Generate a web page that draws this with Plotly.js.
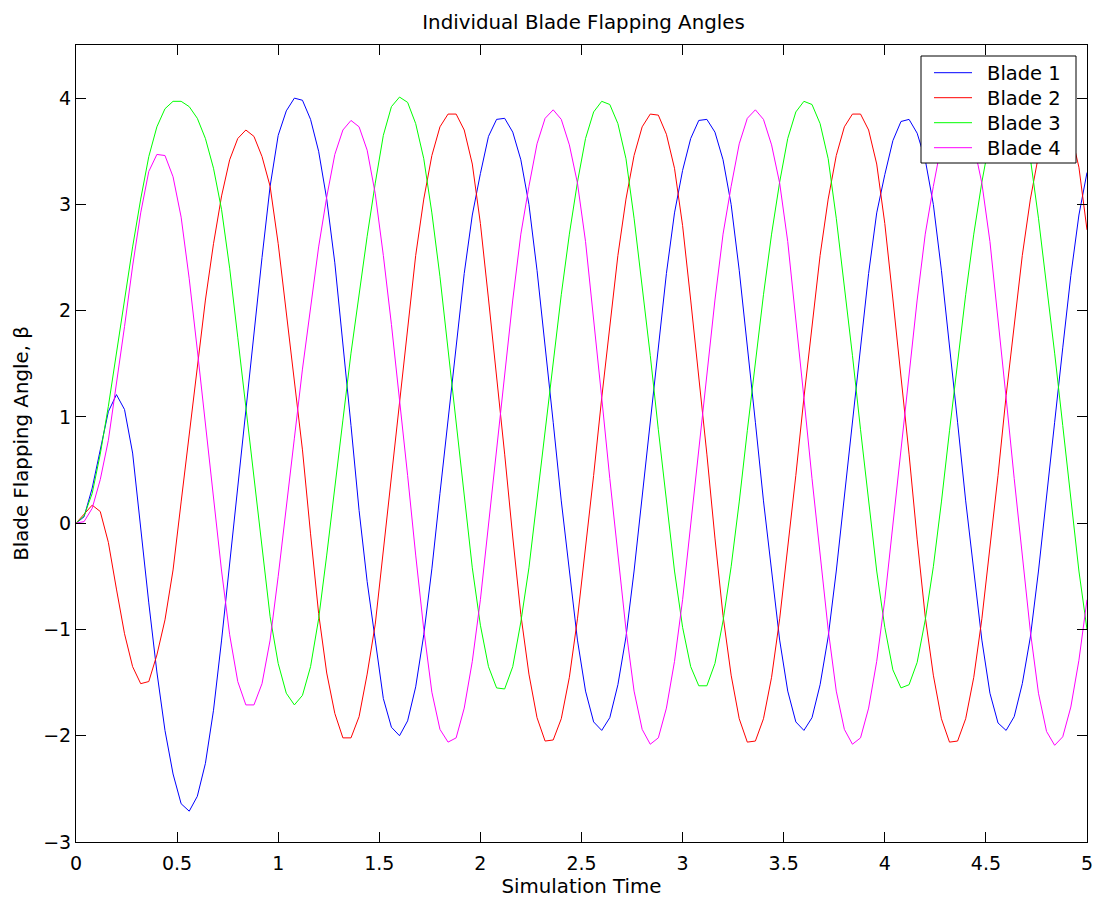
<!DOCTYPE html>
<html>
<head>
<meta charset="utf-8">
<script src="https://cdn.plot.ly/plotly-3.0.1.min.js"></script>
<style>
  html, body { margin: 0; padding: 0; background: #ffffff; }
  #chart { width: 1097px; height: 903px; }
</style>
</head>
<body>
<div id="chart"></div>
<script>
// Sampling of the simulation (s)
const sampleStart = 0;
const sampleStep = 0.04;

// Blade flapping angles (one value per sample, t = 0 ... 5 s)
const blade1 = [
  0, 0.06, 0.33, 0.69, 1.05, 1.21, 1.07, 0.66, -0.05, -0.75,
  -1.4, -1.95, -2.36, -2.64, -2.71, -2.57, -2.26, -1.76, -1.1, -0.37,
  0.33, 1.05, 1.8, 2.5, 3.17, 3.65, 3.88, 4.0, 3.98, 3.8,
  3.5, 3.05, 2.45, 1.7, 0.92, 0.12, -0.55, -1.1, -1.65, -1.92,
  -2.0, -1.86, -1.54, -1.05, -0.43, 0.28, 0.98, 1.68, 2.35, 2.9,
  3.29, 3.64, 3.8, 3.81, 3.68, 3.42, 3.0, 2.38, 1.69, 0.95,
  0.21, -0.45, -1.1, -1.58, -1.87, -1.95, -1.83, -1.52, -1.07, -0.45,
  0.25, 0.98, 1.68, 2.35, 2.92, 3.32, 3.62, 3.79, 3.8, 3.68,
  3.42, 3.0, 2.38, 1.69, 0.95, 0.21, -0.45, -1.1, -1.58, -1.87,
  -1.95, -1.83, -1.52, -1.07, -0.45, 0.25, 0.98, 1.68, 2.35, 2.92,
  3.28, 3.6, 3.78, 3.8, 3.67, 3.42, 3.0, 2.38, 1.69, 0.95,
  0.21, -0.45, -1.1, -1.6, -1.88, -1.95, -1.82, -1.51, -1.07, -0.45,
  0.22, 0.95, 1.65, 2.33, 2.9, 3.3
];
const blade2 = [
  0, 0.08, 0.17, 0.11, -0.18, -0.62, -1.04, -1.35, -1.51, -1.49,
  -1.24, -0.91, -0.44, 0.2, 0.82, 1.47, 2.1, 2.63, 3.08, 3.42,
  3.62, 3.7, 3.64, 3.45, 3.17, 2.63, 1.97, 1.35, 0.69, -0.1,
  -0.85, -1.41, -1.79, -2.02, -2.02, -1.82, -1.42, -0.95, -0.25, 0.45,
  1.18, 1.88, 2.52, 3.05, 3.46, 3.73, 3.85, 3.85, 3.7, 3.38,
  2.82, 2.11, 1.4, 0.65, -0.13, -0.86, -1.42, -1.83, -2.05, -2.04,
  -1.84, -1.45, -0.9, -0.25, 0.45, 1.18, 1.88, 2.52, 3.05, 3.46,
  3.73, 3.85, 3.84, 3.66, 3.34, 2.8, 2.1, 1.4, 0.65, -0.14,
  -0.87, -1.43, -1.84, -2.06, -2.05, -1.84, -1.45, -0.9, -0.25, 0.45,
  1.18, 1.88, 2.52, 3.05, 3.46, 3.73, 3.85, 3.85, 3.7, 3.38,
  2.82, 2.11, 1.4, 0.65, -0.15, -0.88, -1.43, -1.84, -2.06, -2.05,
  -1.84, -1.45, -0.9, -0.24, 0.45, 1.2, 1.88, 2.52, 3.05, 3.46,
  3.73, 3.85, 3.85, 3.68, 3.35, 2.76
];
const blade3 = [
  0, 0.07, 0.28, 0.65, 1.1, 1.6, 2.1, 2.6, 3.05, 3.45,
  3.73, 3.9, 3.97, 3.97, 3.92, 3.81, 3.62, 3.34, 2.95, 2.4,
  1.75, 1.1, 0.45, -0.2, -0.88, -1.32, -1.6, -1.71, -1.62, -1.35,
  -0.9, -0.3, 0.36, 0.97, 1.6, 2.16, 2.7, 3.2, 3.65, 3.92,
  4.01, 3.96, 3.76, 3.43, 2.92, 2.32, 1.65, 0.95, 0.25, -0.42,
  -0.96, -1.35, -1.55, -1.56, -1.35, -0.93, -0.42, 0.23, 0.87, 1.52,
  2.15, 2.72, 3.21, 3.62, 3.87, 3.97, 3.94, 3.76, 3.43, 2.87,
  2.25, 1.58, 0.88, 0.2, -0.45, -0.98, -1.35, -1.53, -1.53, -1.32,
  -0.92, -0.41, 0.2, 0.87, 1.52, 2.15, 2.72, 3.21, 3.62, 3.87,
  3.97, 3.94, 3.76, 3.43, 2.87, 2.25, 1.58, 0.88, 0.2, -0.45,
  -0.98, -1.38, -1.55, -1.52, -1.31, -0.91, -0.41, 0.2, 0.87, 1.52,
  2.15, 2.72, 3.21, 3.62, 3.87, 3.97, 3.94, 3.76, 3.43, 2.87,
  2.25, 1.6, 0.92, 0.22, -0.45, -1.0
];
const blade4 = [
  0, 0.015, 0.14, 0.41, 0.78, 1.3, 1.85, 2.42, 2.92, 3.31,
  3.47, 3.46, 3.26, 2.88, 2.3, 1.63, 0.95, 0.21, -0.45, -1.05,
  -1.49, -1.71, -1.71, -1.51, -1.1, -0.5, 0.18, 0.8, 1.45, 2.05,
  2.6, 3.07, 3.47, 3.7, 3.79, 3.73, 3.51, 3.1, 2.52, 1.87,
  1.18, 0.45, -0.3, -1.0, -1.59, -1.94, -2.06, -2.02, -1.74, -1.3,
  -0.72, -0.02, 0.7, 1.4, 2.1, 2.72, 3.17, 3.57, 3.81, 3.89,
  3.8, 3.56, 3.2, 2.65, 1.93, 1.18, 0.42, -0.32, -1.0, -1.58,
  -1.94, -2.08, -2.02, -1.74, -1.3, -0.72, -0.02, 0.7, 1.4, 2.1,
  2.72, 3.17, 3.57, 3.81, 3.89, 3.8, 3.56, 3.2, 2.65, 1.93,
  1.18, 0.42, -0.32, -1.0, -1.58, -1.94, -2.08, -2.02, -1.74, -1.3,
  -0.72, -0.02, 0.7, 1.4, 2.1, 2.72, 3.17, 3.57, 3.81, 3.89,
  3.8, 3.56, 3.2, 2.65, 1.93, 1.18, 0.42, -0.32, -1.02, -1.6,
  -1.96, -2.09, -2.01, -1.73, -1.29, -0.72
];

const seriesNames = ['Blade 1', 'Blade 2', 'Blade 3', 'Blade 4'];
const seriesColors = ['#0000ff', '#ff0000', '#00ff00', '#ff00ff'];
const xTickVals = [0, 0.5, 1, 1.5, 2, 2.5, 3, 3.5, 4, 4.5, 5];
const yTickVals = [-3, -2, -1, 0, 1, 2, 3, 4];

const time = blade1.map((_, i) => +(sampleStart + i * sampleStep).toFixed(2));
const allSeries = [blade1, blade2, blade3, blade4];

const font = 'DejaVu Sans, Liberation Sans, Arial, sans-serif';

// Figure geometry (pixels)
const W = 1097, H = 903;
const M = { l: 76, r: 10, t: 45, b: 61 };
const plotW = W - M.l - M.r, plotH = H - M.t - M.b;
const px = x => (x - M.l) / plotW;          // pixel x -> paper x
const py = y => (H - M.b - y) / plotH;      // pixel y -> paper y

const traces = allSeries.map((vals, i) => ({
  type: 'scatter',
  mode: 'lines',
  x: time,
  y: vals,
  name: seriesNames[i],
  line: { color: seriesColors[i], width: 1 },
  hoverinfo: 'x+y+name',
  showlegend: false
}));

// Legend drawn as a boxed key in the upper-right corner of the axes
const legBox = { x0: 921, x1: 1076, y0: 56, y1: 163 };
const legRowY = [72.7, 97.7, 122.7, 147.7];
const legLine = { x0: 934, x1: 972 };
const legTextX = 985;

const shapes = [{
  type: 'rect', xref: 'paper', yref: 'paper', layer: 'above',
  x0: px(legBox.x0), x1: px(legBox.x1), y0: py(legBox.y1), y1: py(legBox.y0),
  fillcolor: '#ffffff', line: { color: '#000000', width: 1 }
}];
const annotations = [];
seriesNames.forEach((name, i) => {
  shapes.push({
    type: 'line', xref: 'paper', yref: 'paper', layer: 'above',
    x0: px(legLine.x0), x1: px(legLine.x1), y0: py(legRowY[i]), y1: py(legRowY[i]),
    line: { color: seriesColors[i], width: 1 }
  });
  annotations.push({
    xref: 'paper', yref: 'paper', x: px(legTextX), y: py(legRowY[i] + 1),
    xanchor: 'left', yanchor: 'middle', showarrow: false,
    text: name, font: { family: font, size: 19.5, color: '#000000' }
  });
});

const axisCommon = {
  showgrid: false,
  zeroline: false,
  showline: true,
  linecolor: '#000000',
  linewidth: 1,
  mirror: 'ticks',
  ticks: 'inside',
  ticklen: 10,
  tickwidth: 1,
  tickcolor: '#000000',
  tickfont: { family: font, size: 19, color: '#000000' }
};

const layout = {
  width: W,
  height: H,
  paper_bgcolor: '#ffffff',
  plot_bgcolor: '#ffffff',
  margin: { l: M.l, r: M.r, t: M.t, b: M.b, pad: 0 },
  showlegend: false,
  title: {
    text: 'Individual Blade Flapping Angles',
    font: { family: font, size: 19.8, color: '#000000' },
    x: 583.5 / W, xref: 'container', xanchor: 'center',
    y: 1 - 22 / H, yref: 'container', yanchor: 'middle'
  },
  xaxis: Object.assign({}, axisCommon, {
    range: [0, 5],
    tickvals: xTickVals,
    ticklabelstandoff: 4,
    title: { text: 'Simulation Time', font: { family: font, size: 19.8, color: '#000000' }, standoff: 6 }
  }),
  yaxis: Object.assign({}, axisCommon, {
    range: [-3, 4.5],
    tickvals: yTickVals,
    title: { text: 'Blade Flapping Angle, β', font: { family: font, size: 19.8, color: '#000000' }, standoff: 9 }
  }),
  shapes: shapes,
  annotations: annotations
};

Plotly.newPlot('chart', traces, layout, { displayModeBar: false, staticPlot: true });
</script>
</body>
</html>
